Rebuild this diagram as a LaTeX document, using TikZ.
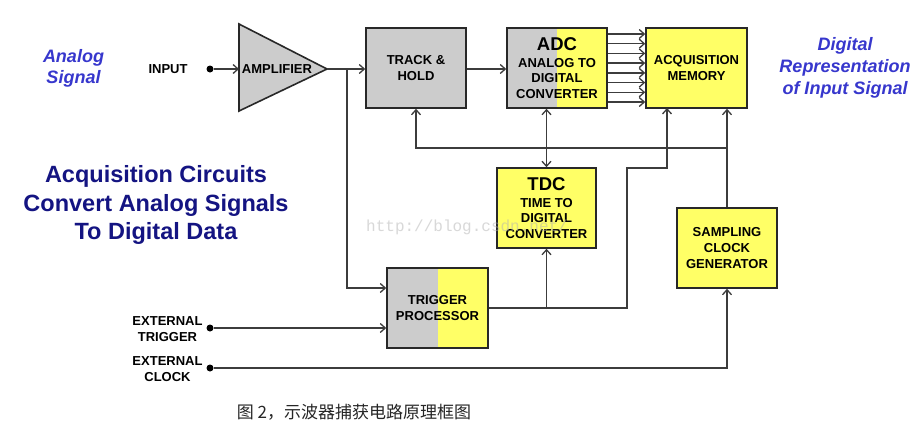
\documentclass[tikz,border=0pt]{standalone}
\usepackage{fontspec}
\setmainfont{Liberation Sans}
\newfontfamily\cjkfont{Noto Sans CJK SC}
\newfontfamily\wmfont{Liberation Mono}
\usetikzlibrary{arrows.meta}
\definecolor{linecol}{RGB}{60,60,60}
\definecolor{boxcol}{RGB}{40,40,40}
\definecolor{gfill}{RGB}{204,204,204}
\definecolor{yfill}{RGB}{255,255,102}
\definecolor{lblue}{RGB}{55,55,205}
\definecolor{navy}{RGB}{20,20,130}
\tikzset{
  lbl/.style={font=\fontsize{13}{15.8}\selectfont\bfseries, align=center, text=black},
  blk/.style={draw=boxcol, line width=1.6pt, minimum width=100pt, minimum height=80pt, inner sep=0pt, lbl},
  ybox/.style={blk, fill=yfill},
  gbox/.style={blk, fill=gfill},
  hbox/.style={blk, fill=yfill, path picture={\fill[gfill] (path picture bounding box.south west) rectangle (path picture bounding box.north);}},
  conn/.style={draw=linecol, line width=1.5pt},
  arr/.style={conn, -{Straight Barb[length=5pt,width=9pt,line width=1.3pt]}},
  arrboth/.style={conn, {Straight Barb[length=5pt,width=9pt,line width=1.3pt]}-{Straight Barb[length=5pt,width=9pt,line width=1.3pt]}},
  dotmark/.style={circle, fill=black, inner sep=0pt, minimum size=7pt},
  sidetext/.style={font=\fontsize{18}{21}\selectfont\bfseries\itshape, text=lblue, align=center},
}
\begin{document}
\begin{tikzpicture}[x=1pt,y=-1pt]
\useasboundingbox (0,0) rectangle (923,432);
\fill[white] (0,0) rectangle (923,432);

% side texts
\node[sidetext] (analog) at (73.5,68) {Analog\\Signal};
\node[sidetext, font=\fontsize{18}{22}\selectfont\bfseries\itshape] (digital) at (845,68) {Digital\\Representation\\of Input Signal};
\node[font=\fontsize{23.5}{28.5}\selectfont\bfseries, text=navy, align=center] (title) at (156,205) {Acquisition Circuits\\Convert Analog Signals\\To Digital Data};

% input labels
\node[lbl] (inlbl) at (168,69) {INPUT};
\node[lbl] (etlbl) at (167.5,329) {EXTERNAL\\TRIGGER};
\node[lbl] (eclbl) at (167.5,369) {EXTERNAL\\CLOCK};
\node[dotmark] (in) at (210,69) {};
\node[dotmark] (et) at (210,328) {};
\node[dotmark] (ec) at (210,368) {};

% amplifier
\filldraw[fill=gfill, draw=boxcol, line width=1.6pt, line join=miter] (239,24) -- (327,69) -- (239,111) -- cycle;
\coordinate (ampin) at (239,69);
\coordinate (ampout) at (327,69);
\node[lbl] (amplbl) at (277,69) {AMPLIFIER};

% blocks
\node[gbox] (th) at (416,68) {TRACK \&\\HOLD};
\node[hbox] (adc) at (557,68) {{\fontsize{18.5}{18.5}\selectfont ADC}\\[1pt]ANALOG TO\\DIGITAL\\CONVERTER};
\node[ybox, minimum width=101pt] (mem) at (696.5,68) {ACQUISITION\\MEMORY};
\node[ybox, minimum width=99pt] (tdc) at (546.5,208) {{\fontsize{18.5}{18.5}\selectfont TDC}\\[1pt]TIME TO\\DIGITAL\\CONVERTER};
\node[ybox] (scg) at (727,248) {SAMPLING\\CLOCK\\GENERATOR};
\node[hbox, minimum width=101pt] (trig) at (437.5,308) {TRIGGER\\PROCESSOR};

% connectors
\draw[arr] (in) -- (ampin);
\coordinate (br1) at (347,69);
\draw[arr] (ampout) -- (th.west |- ampout);
\draw[arr] (br1) |- ([yshift=20pt]trig.west);
\draw[arr] (th.east |- ampout) -- (adc.west |- ampout);
\foreach \yy in {34,43.7,53.4,63.1,72.9,82.6,92.3,102} {
  \draw[arr] (adc.east |- 0,\yy) -- (mem.west |- 0,\yy);
}
\coordinate (bus) at (727,148);
\draw[arr] (scg.north) -- (scg.north |- mem.south);
\draw[arr] (bus) -| (th.south);
\draw[arrboth] (tdc.north |- adc.south) -- (tdc.north);
\coordinate (tp1) at (627,168);
\coordinate (tp2) at (667,108);
\draw[arr] (trig.east) -| (tp1) -| (tp2);
\draw[arr] (tdc.south |- trig.east) -- (tdc.south);
\draw[arr] (et) -- (trig.west |- et);
\draw[arr] (ec) -| (scg.south);

% watermark
\node[font=\wmfont\fontsize{16}{16}\selectfont, text=gray!60, opacity=0.5, anchor=west, inner sep=0pt] (wm) at (366,227) {http://blog.csdn.net/};

% caption
\node[font=\cjkfont\fontsize{17}{17}\selectfont, text=black!85] (cap) at (354,412) {图 2，示波器捕获电路原理框图};
\end{tikzpicture}
\end{document}
